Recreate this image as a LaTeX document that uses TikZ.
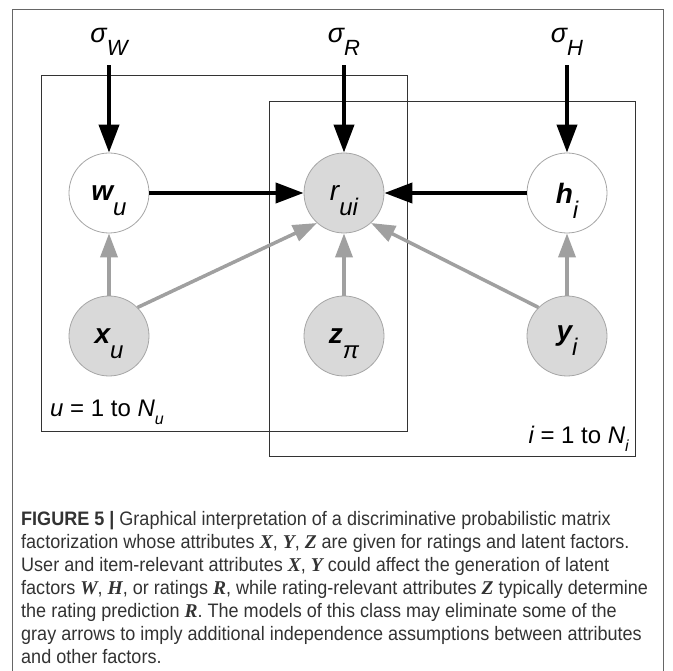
\documentclass[tikz,border=0pt]{standalone}
\usepackage{fontspec}
\setmainfont{Liberation Sans}
\newfontfamily\capfont[FakeStretch=0.925]{Liberation Sans}
\newfontfamily\serbi{Liberation Serif}
\usetikzlibrary{arrows.meta}
\definecolor{circ}{HTML}{A6A6A6}
\definecolor{obsfill}{HTML}{D9D9D9}
\definecolor{arrowgray}{HTML}{A0A0A0}
\definecolor{plategray}{HTML}{333333}
\definecolor{framegray}{HTML}{666666}
\definecolor{captext}{HTML}{333333}
\newcommand\lab[2]{{#1}\smash{\raisebox{-15pt}{\fontsize{24}{24}\selectfont\mdseries\itshape #2}}}
\newcommand\sig[1]{\fontsize{27}{27}\selectfont\itshape σ\raisebox{-13pt}{\fontsize{22}{22}\selectfont\itshape #1}}
\newcommand\pl[2]{\fontsize{24}{24}\selectfont #1\raisebox{-8pt}{\fontsize{16}{16}\selectfont\itshape #2}}
\newcommand\mb[1]{{\serbi\bfseries\itshape #1}}
\tikzset{
  var/.style={circle, minimum size=80pt, inner sep=0pt, draw=circ, line width=0.8pt,
    font=\fontsize{28}{28}\selectfont},
  obs/.style={var, fill=obsfill},
  lat/.style={var, fill=white},
  sigma/.style={anchor=base, inner sep=0pt, text depth=22pt},
  blk/.style={line width=4pt, -{Triangle[length=28pt,width=20pt]}},
  gry/.style={draw=arrowgray, line width=3.5pt, -{Triangle[length=24pt,width=17pt,fill=arrowgray]}},
  plate/.style={draw=plategray, line width=1pt},
  capline/.style={anchor=base west, inner sep=0pt, text=captext, font=\capfont\fontsize{19.5}{19.5}\selectfont},
}
\begin{document}
\begin{tikzpicture}[x=1pt,y=-1pt]
\useasboundingbox[fill=white] (0,0) rectangle (673,671);
% outer frame
\draw[framegray, line width=1pt] (12,700) -- (12,9.5) -- (663,9.5) -- (663,700);
% plates
\draw[plate] (41.5,76) rectangle (407.5,432);
\draw[plate] (269.5,101.5) rectangle (635,457);
\node[anchor=base west, inner sep=0pt] (pu) at (50,417) {\pl{\itshape u \upshape = 1 to \itshape N}{u}};
\node[anchor=base east, inner sep=0pt] (pi) at (629,443) {\pl{\itshape i \upshape = 1 to \itshape N}{i}};
% variables
\node[lat] (wu) at (109,193) {\lab{\bfseries\itshape w}{u}};
\node[obs] (rui) at (344,193) {\lab{\itshape r}{ui}};
\node[lat] (hi) at (567,193) {\lab{\bfseries\itshape h}{i}};
\node[obs] (xu) at (109,336) {\lab{\bfseries\itshape x}{u}};
\node[obs] (zp) at (344,336) {\lab{\bfseries\itshape z}{π}};
\node[obs] (yi) at (567,336) {\lab{\bfseries\itshape y}{i}};
% hyperparameters
\node[sigma] (sW) at (109,43) {\sig{W}};
\node[sigma] (sR) at (344,43) {\sig{R}};
\node[sigma] (sH) at (567,43) {\sig{H}};
% black arrows
\draw[blk] (sW.south) -- (wu);
\draw[blk] (sR.south) -- (rui);
\draw[blk] (sH.south) -- (hi);
\draw[blk] (wu) -- (rui);
\draw[blk] (hi) -- (rui);
% gray arrows
\draw[gry] (xu) -- (wu);
\draw[gry] (zp) -- (rui);
\draw[gry] (yi) -- (hi);
\draw[gry] (xu.45) -- (rui.228);
\draw[gry] (yi.135) -- (rui.312);
% caption
\node[capline] (c1) at (21,525) {\textbf{FIGURE 5 |} Graphical interpretation of a discriminative probabilistic matrix};
\node[capline] (c2) at (21,548) {factorization whose attributes \mb{X}, \mb{Y}, \mb{Z} are given for ratings and latent factors.};
\node[capline] (c3) at (21,571) {User and item-relevant attributes \mb{X}, \mb{Y} could affect the generation of latent};
\node[capline] (c4) at (21,594) {factors \mb{W}, \mb{H}, or ratings \mb{R}, while rating-relevant attributes \mb{Z} typically determine};
\node[capline] (c5) at (21,617) {the rating prediction \mb{R}. The models of this class may eliminate some of the};
\node[capline] (c6) at (21,640) {gray arrows to imply additional independence assumptions between attributes};
\node[capline] (c7) at (21,663) {and other factors.};
\end{tikzpicture}
\end{document}
